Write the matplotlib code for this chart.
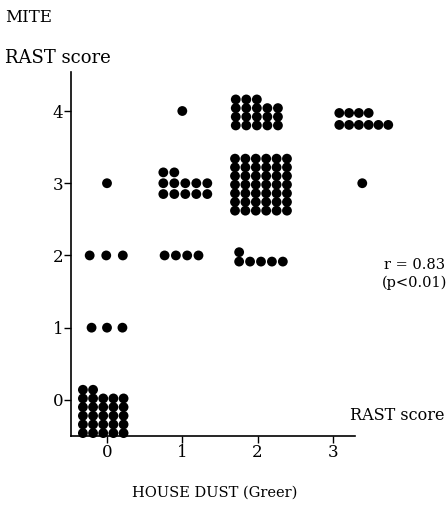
import matplotlib
matplotlib.use("Agg")
import matplotlib.pyplot as plt
import numpy as np

plt.rcParams['font.family'] = ['DejaVu Serif']

# ---- data (one cluster of patients per cell) ----
house_dust = [0, 0, 0, 0, 1, 1, 1, 2, 2, 2, 3, 3]
rast_score = [0, 1, 2, 3, 4, 3, 2, 4, 3, 2, 4, 3]
n_patients = [27, 3, 3, 1, 1, 12, 4, 18, 42, 6, 10, 1]
x_ticks = [0, 1, 2, 3]
y_ticks = [0, 1, 2, 3, 4]

# ---- layout of dots inside each cluster (ncol, col spacing, row spacing, shift x, shift y) ----
layout = {
    (0, 0): (5, 0.135, 0.12, -0.05, -0.16),
    (0, 1): (3, 0.205, 0.115, 0.0, 0.0),
    (0, 2): (3, 0.22, 0.115, -0.01, 0.0),
    (0, 3): (1, 0.1, 0.115, 0.0, 0.0),
    (1, 4): (1, 0.1, 0.115, 0.0, 0.0),
    (1, 3): (5, 0.146, 0.15, 0.04, 0.0),
    (1, 2): (4, 0.15, 0.115, -0.01, 0.0),
    (2, 4): (5, 0.14, 0.12, -0.01, -0.02),
    (2, 3): (6, 0.138, 0.12, 0.045, -0.02),
    (2, 2): (5, 0.145, 0.13, 0.045, -0.02),
    (3, 4): (6, 0.13, 0.165, 0.41, -0.11),
    (3, 3): (1, 0.1, 0.115, 0.39, 0.0),
}

W, H = 447, 505
fig = plt.figure(figsize=(W / 100, H / 100), dpi=100)
x0_px, x1_px, ytop_px, ybot_px = 71, 355, 72, 436
ax = fig.add_axes([x0_px / W, 1 - ybot_px / H, (x1_px - x0_px) / W, (ybot_px - ytop_px) / H])

xs, ys = [], []
for hd, rs, n in zip(house_dust, rast_score, n_patients):
    ncol, sx, sy, shx, shy = layout[(hd, rs)]
    nrow = int(np.ceil(n / ncol))
    full_rows = n // ncol
    rem = n - full_rows * ncol
    # rows from bottom: full rows first, partial row on top (left aligned)
    for r in range(nrow):
        cnt = ncol if r < full_rows else rem
        for c in range(cnt):
            xs.append(hd + shx + (c - (ncol - 1) / 2) * sx)
            ys.append(rs + shy + (r - (nrow - 1) / 2) * sy)

ax.scatter(xs, ys, s=50, color='black', edgecolors='none', clip_on=False, zorder=3)

ppu_x = 75.3
ax.set_xlim((x0_px - 107) / ppu_x, (x1_px - 107) / ppu_x)
ax.set_ylim(-0.50, 4.54)
ax.set_xticks(x_ticks)
ax.set_yticks(y_ticks)
ax.set_xticklabels([str(v) for v in x_ticks], fontsize=12)
ax.set_yticklabels([str(v) for v in y_ticks], fontsize=12)
ax.tick_params(axis='y', direction='out', length=5, width=1, color='black', pad=0.5)
ax.tick_params(axis='x', direction='out', length=5, width=1, color='black', pad=1)
for s in ['top', 'right']:
    ax.spines[s].set_visible(False)
for s in ['left', 'bottom']:
    ax.spines[s].set_linewidth(1.2)

fig.text(5 / W, 1 - 18 / H, 'MITE', fontsize=12, va='center', ha='left')
fig.text(5 / W, 1 - 58 / H, 'RAST score', fontsize=13, va='center', ha='left')
fig.text(384 / W, 1 - 265 / H, 'r = 0.83', fontsize=10.5, va='center', ha='left')
fig.text(382 / W, 1 - 283 / H, '(p<0.01)', fontsize=10.5, va='center', ha='left')
fig.text(350 / W, 1 - 415 / H, 'RAST score', fontsize=11.5, va='center', ha='left')
fig.text(215 / W, 1 - 493 / H, 'HOUSE DUST (Greer)', fontsize=10.5, va='center', ha='center')

fig.savefig('out.png', dpi=100)
